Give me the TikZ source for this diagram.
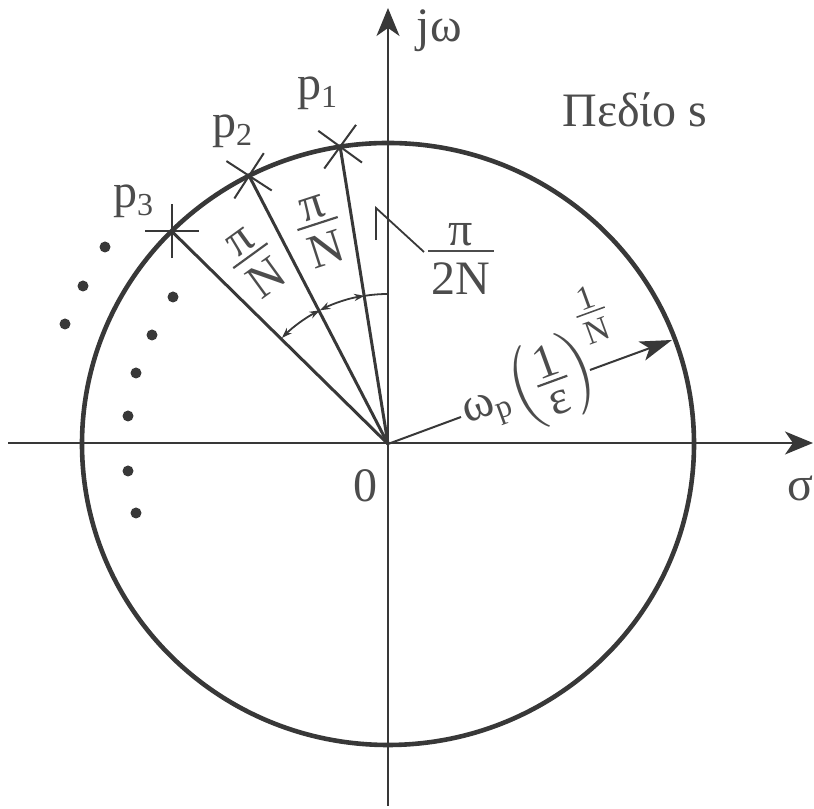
\documentclass[tikz,border=0pt]{standalone}
\usepackage{fontspec}
\setmainfont{Liberation Serif}
\usepackage{amsmath}
\usetikzlibrary{arrows.meta,calc}
\definecolor{ink}{gray}{0.22}
\definecolor{txt}{gray}{0.30}
\newcommand{\fracx}[2]{\vcenter{\offinterlineskip\halign{\hfil##\hfil\cr
  \hbox{\kern0.08em#1\kern0.08em}\cr\noalign{\kern0.08em}\noalign{\hrule height0.045em}\noalign{\kern0.22em}
  \hbox{\kern0.08em#2\kern0.08em}\cr}}}
\tikzset{
  lbl/.style={font=\fontsize{12}{14}\selectfont, text=txt, inner sep=0pt},
  axisline/.style={line width=0.5pt, draw=ink, -{Stealth[length=7pt,width=5.75pt,inset=2pt]}},
  circ/.style={line width=1.15pt, draw=ink},
  ray/.style={line width=0.75pt, draw=ink},
  crossline/.style={line width=0.5pt, draw=ink},
  anglearc/.style={line width=0.45pt, draw=ink},
  twoarrow/.style={anglearc, {Stealth[length=2.6pt,width=1.8pt]}-{Stealth[length=2.6pt,width=1.8pt]}},
  radarrow/.style={line width=0.5pt, draw=ink, -{Stealth[length=8pt,width=5pt,inset=2pt]}},
  leader/.style={line width=0.45pt, draw=ink},
  dotfill/.style={fill=ink}
}
\begin{document}
\begin{tikzpicture}[x=0.25pt,y=-0.25pt]
\useasboundingbox (0,0) rectangle (814,809);
\coordinate (O) at (388,444);
% axes
\coordinate (xs) at (8,443);   \coordinate (xe) at (813,443);
\coordinate (ys) at (388,806); \coordinate (ye) at (388,8);
\draw[axisline] (xs) -- (xe);
\draw[axisline] (ys) -- (ye);
% circle
\draw[circ] (O) ellipse [x radius=306, y radius=301];
% poles
\coordinate (p1) at ($(O)+(-99:306 and 301)$);
\coordinate (p2) at ($(O)+(-117:306 and 301)$);
\coordinate (p3) at ($(O)+(-135:306 and 301)$);
\draw[ray] (O) -- (p1);
\draw[ray] (O) -- (p2);
\draw[ray] (O) -- (p3);
% crosses
\draw[crossline] ($(p1)+(-54:27)$) -- ($(p1)+(126:27)$);
\draw[crossline] ($(p1)+(-144:27)$) -- ($(p1)+(36:27)$);
\draw[crossline] ($(p2)+(-57:27)$) -- ($(p2)+(123:27)$);
\draw[crossline] ($(p2)+(-147:27)$) -- ($(p2)+(33:27)$);
\draw[crossline] ($(p3)+(0:27)$) -- ($(p3)+(180:27)$);
\draw[crossline] ($(p3)+(90:27)$) -- ($(p3)+(-90:27)$);
% angle arcs
\coordinate (a3) at ($(O)+(-135:150)$);
\coordinate (a2) at ($(O)+(-117:150)$);
\coordinate (a1) at ($(O)+(-99:150)$);
\draw[twoarrow] (a3) arc[start angle=-135, end angle=-117, radius=150];
\draw[twoarrow] (a2) arc[start angle=-117, end angle=-99, radius=150];
\draw[anglearc] (a1) arc[start angle=-99, end angle=-90, radius=150];
% labels of angles
\node[lbl, rotate=36] (f1) at (255,262) {$\fracx{π}{N}$};
\node[lbl, rotate=18] (f2) at (320,231) {$\fracx{π}{N}$};
\node[lbl] (f3) at (461,259) {$\fracx{π}{2N}$};
\coordinate (l1) at (424,252);
\coordinate (l2) at (376,208);
\coordinate (l3) at (376,240);
\draw[leader] (l1) -- (l2) -- (l3);
% radius
\coordinate (wa) at (461,417);
\coordinate (wb) at (590,370);
\coordinate (tip) at (672,340);
\draw[ray, line width=0.5pt] (O) -- (wa);
\draw[radarrow] (wb) -- (tip);
\node[lbl, rotate=20, anchor=base west] (rad) at (467,424)
  {ω$_{\text{p}}\!\left(\fracx{1}{ε}\right)^{\raisebox{2.5pt}{\fontsize{8.5}{9}\selectfont$\fracx{1}{N}$}}$};
% dots
\fill[dotfill] (105,247) circle[radius=5.5];
\fill[dotfill] (83,286) circle[radius=5.5];
\fill[dotfill] (65,324) circle[radius=5.5];
\fill[dotfill] (173,297) circle[radius=5.5];
\fill[dotfill] (152,335) circle[radius=5.5];
\fill[dotfill] (136,373) circle[radius=5.5];
\fill[dotfill] (128,416) circle[radius=5.5];
\fill[dotfill] (128,471) circle[radius=5.5];
\fill[dotfill] (136,513) circle[radius=5.5];
% text labels
\node[lbl, anchor=base] (lp1) at (318,100) {p$_{\text{1}}$};
\node[lbl, anchor=base] (lp2) at (233,138) {p$_{\text{2}}$};
\node[lbl, anchor=base] (lp3) at (134,208) {p$_{\text{3}}$};
\node[lbl, anchor=base west] (jw) at (416,42) {jω};
\node[lbl] (pedio) at (635,110) {Πεδίο s};
\node[lbl] (zero) at (365,486) {0};
\node[lbl] (sig) at (800,488) {σ};
\end{tikzpicture}
\end{document}
